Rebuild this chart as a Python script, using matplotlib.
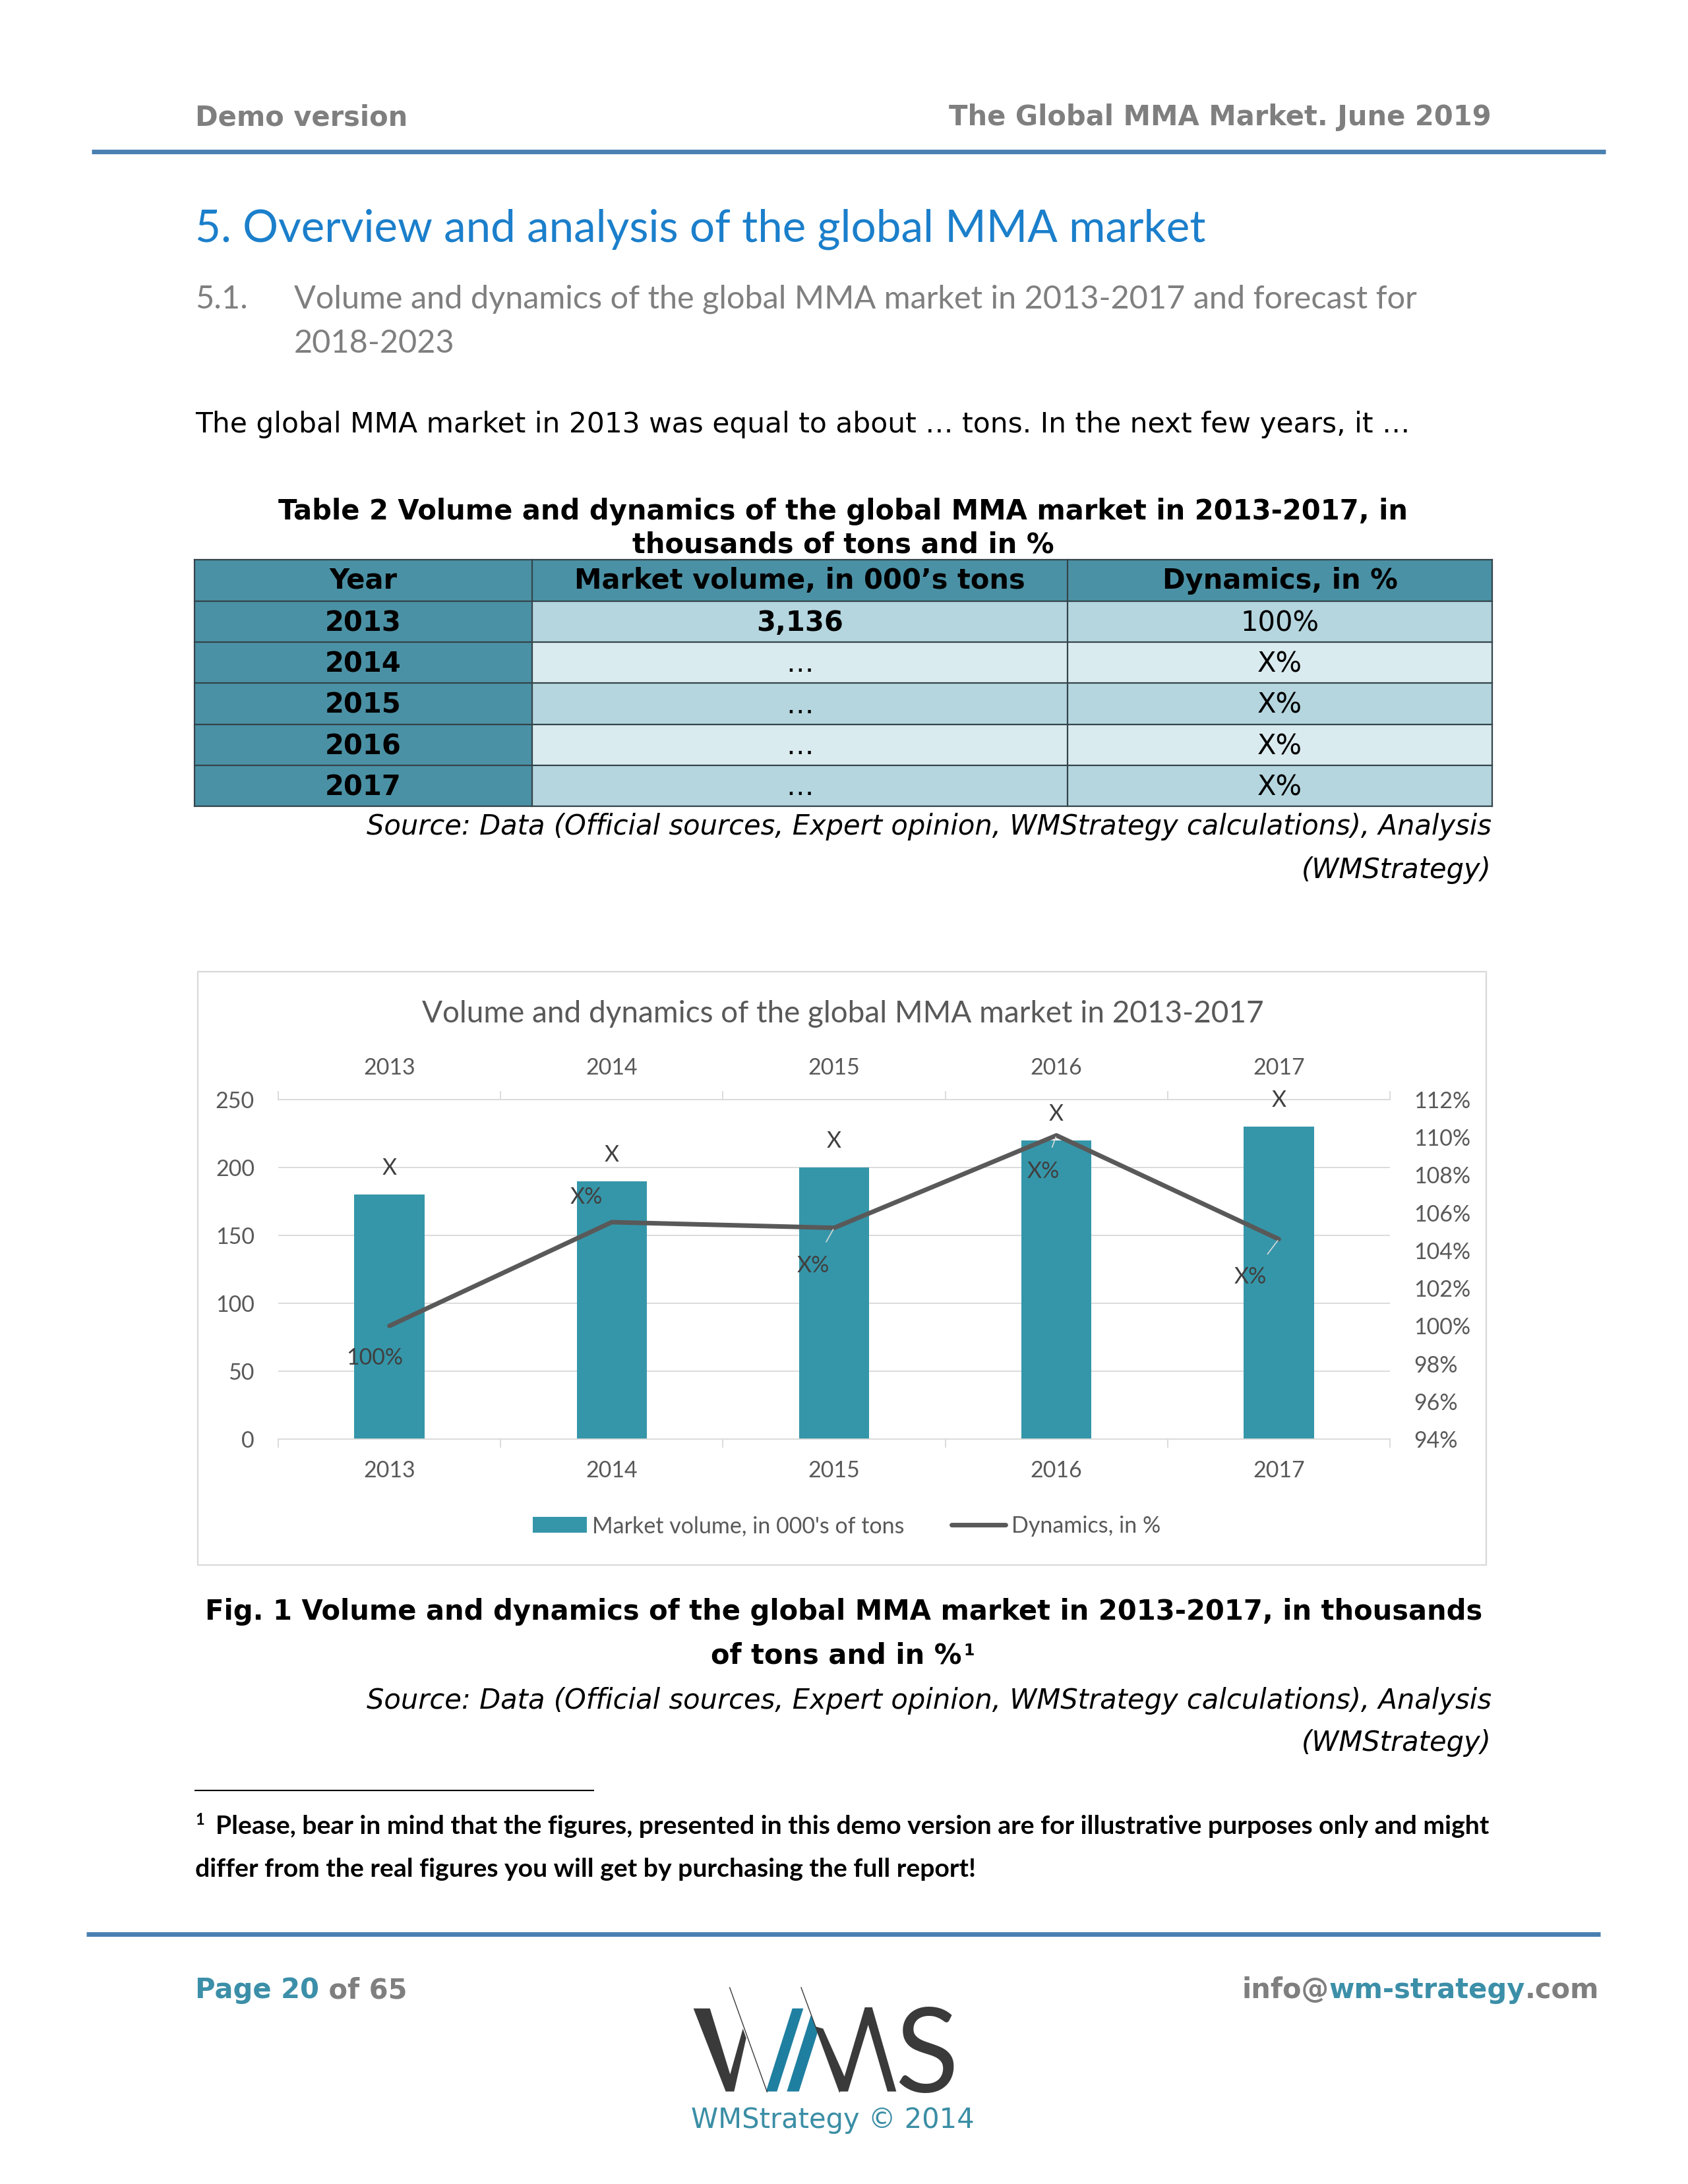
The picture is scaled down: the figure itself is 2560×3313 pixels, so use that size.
import numpy as np
import matplotlib
matplotlib.use("Agg")
import matplotlib.pyplot as plt
from matplotlib.patches import Rectangle, Polygon

plt.rcParams['font.family'] = ['Lato', 'DejaVu Sans']

# ---- data ----
years = ['2013', '2014', '2015', '2016', '2017']
volume = [180, 190, 200, 220, 230]              # 000's tons (bars)
dynamics = [100.0, 105.5, 105.2, 110.1, 104.6]  # % (line)
bar_labels = ['X', 'X', 'X', 'X', 'X']
dyn_labels = ['100%', 'X%', 'X%', 'X%', 'X%']

table_header = ['Year', 'Market volume, in 000\u2019s tons', 'Dynamics, in %']
table_volume = ['3,136', '\u2026', '\u2026', '\u2026', '\u2026']
table_dynamics = ['100%', 'X%', 'X%', 'X%', 'X%']

W, H = 2560, 3313
TEAL = '#3596a9'
TEAL_DARK = '#4b91a5'
GRAY = '#7f7f7f'
CHART_GRAY = '#595959'
VERDANA = 'DejaVu Sans'
FS = 30      # body text size (Verdana-like)
CFS = 24.5   # chart label size

fig = plt.figure(figsize=(W / 100, H / 100), dpi=100)
fig.patch.set_facecolor('white')

# page-level axes in pixel coordinates
bg = fig.add_axes([0, 0, 1, 1])
bg.set_xlim(0, W)
bg.set_ylim(H, 0)
bg.axis('off')

# header
bg.text(296, 178, 'Demo version', family=VERDANA, weight='bold', fontsize=FS,
        color=GRAY, ha='left', va='center')
bg.text(2262, 178, 'The Global MMA Market. June 2019', family=VERDANA, weight='bold',
        fontsize=FS, color=GRAY, ha='right', va='center')
bg.plot([139, 2435], [230, 230], color='#4a80b1', lw=5, solid_capstyle='butt')

# section titles
bg.text(296, 348, '5. Overview and analysis of the global MMA market', fontsize=48.5,
        color='#1b7fcb', ha='left', va='center')
bg.text(296, 454, '5.1.', fontsize=35, color=GRAY, ha='left', va='center')
bg.text(446, 454, 'Volume and dynamics of the global MMA market in 2013-2017 and forecast for',
        fontsize=35, color=GRAY, ha='left', va='center')
bg.text(446, 521, '2018-2023', fontsize=35, color=GRAY, ha='left', va='center')

bg.text(296, 644, 'The global MMA market in 2013 was equal to about \u2026 tons. In the next few years, it \u2026',
        family=VERDANA, fontsize=30.5, color='black', ha='left', va='center')

# table caption
bg.text(1279, 776, 'Table 2 Volume and dynamics of the global MMA market in 2013-2017, in',
        family=VERDANA, weight='bold', fontsize=FS, ha='center', va='center')
bg.text(1279, 826, 'thousands of tons and in %', family=VERDANA, weight='bold', fontsize=FS,
        ha='center', va='center')

# table
col_x = [295, 807, 1619, 2263]
row_y = [849, 912, 974, 1036, 1099, 1161, 1223]
row_fill = ['#b5d6df', '#daebef']
bg.add_patch(Rectangle((col_x[0], row_y[0]), col_x[-1] - col_x[0], row_y[1] - row_y[0],
                       facecolor=TEAL_DARK, edgecolor='none'))
for j, txt in enumerate(table_header):
    bg.text((col_x[j] + col_x[j + 1]) / 2, (row_y[0] + row_y[1]) / 2, txt, family=VERDANA,
            weight='bold', fontsize=FS, ha='center', va='center')
for i, yr in enumerate(years):
    y0, y1 = row_y[i + 1], row_y[i + 2]
    bg.add_patch(Rectangle((col_x[0], y0), col_x[1] - col_x[0], y1 - y0,
                           facecolor=TEAL_DARK, edgecolor='none'))
    bg.add_patch(Rectangle((col_x[1], y0), col_x[3] - col_x[1], y1 - y0,
                           facecolor=row_fill[i % 2], edgecolor='none'))
    yc = (y0 + y1) / 2 + 2
    bg.text((col_x[0] + col_x[1]) / 2, yc, yr, family=VERDANA, weight='bold', fontsize=FS,
            ha='center', va='center')
    bg.text((col_x[1] + col_x[2]) / 2, yc, table_volume[i], family=VERDANA,
            weight='bold' if i == 0 else 'normal', fontsize=FS, ha='center', va='center')
    bg.text((col_x[2] + col_x[3]) / 2, yc, table_dynamics[i], family=VERDANA, fontsize=FS,
            ha='center', va='center')
for y in row_y:
    bg.plot([col_x[0], col_x[-1]], [y, y], color='#33444a', lw=1.6)
for x in col_x:
    bg.plot([x, x], [row_y[0], row_y[-1]], color='#33444a', lw=1.6)

src = 'Source: Data (Official sources, Expert opinion, WMStrategy calculations), Analysis'
bg.text(2262, 1254, src, family=VERDANA, style='italic', fontsize=FS, ha='right', va='center')
bg.text(2262, 1320, '(WMStrategy)', family=VERDANA, style='italic', fontsize=FS, ha='right', va='center')

# chart frame
bg.add_patch(Rectangle((300, 1474), 1954, 900, facecolor='white', edgecolor='#d9d9d9', lw=1.6))
bg.text(1278, 1538, 'Volume and dynamics of the global MMA market in 2013-2017', fontsize=33,
        color=CHART_GRAY, ha='center', va='center')

# chart
left, right, top, bottom = 422, 2108, 1668, 2183
ax = fig.add_axes([left / W, 1 - bottom / H, (right - left) / W, (bottom - top) / H])
ax.set_zorder(2)
ax.patch.set_alpha(0)
x = np.arange(len(years))
bars = ax.bar(x, volume, width=0.315, color=TEAL, zorder=2)
ax.set_xlim(-0.5, len(years) - 0.5)
ax.set_ylim(0, 250)
ax.set_yticks(range(0, 251, 50))
ax.yaxis.grid(True, color='#d9d9d9', lw=1.3)
ax.set_axisbelow(True)
for s in ['left', 'right']:
    ax.spines[s].set_visible(False)
for s in ['top', 'bottom']:
    ax.spines[s].set_color('#d9d9d9')
    ax.spines[s].set_linewidth(1.3)
ax.set_xticks(np.arange(-0.5, len(years), 1))
ax.set_xticklabels([])
ax.set_xticks(x, minor=True)
ax.set_xticklabels(years, minor=True)
ax.tick_params(axis='x', which='major', direction='out', length=9.5, width=1.3,
               color='#d9d9d9', top=True, bottom=True, labelbottom=False, labeltop=False)
ax.tick_params(axis='x', which='minor', length=0, top=True, bottom=True, labeltop=True,
               labelbottom=True, pad=23, labelsize=CFS, labelcolor=CHART_GRAY)
ax.tick_params(axis='y', length=0, pad=26, labelsize=CFS, labelcolor=CHART_GRAY)

for i, v in enumerate(volume):
    ax.annotate(bar_labels[i], (x[i], v), xytext=(0, 40), textcoords='offset pixels',
                ha='center', va='center', fontsize=CFS, color='#404040')

ax2 = ax.twinx()
ax2.set_zorder(3)
ax2.patch.set_alpha(0)
line, = ax2.plot(x, dynamics, color=CHART_GRAY, lw=5, solid_joinstyle='round',
                 solid_capstyle='round')
ax2.set_ylim(94, 112)
ax2.set_yticks(range(94, 113, 2))
ax2.set_yticklabels([f'{t}%' for t in range(94, 113, 2)])
ax2.tick_params(axis='y', length=0, pad=26, labelsize=CFS, labelcolor=CHART_GRAY)
for s in ax2.spines.values():
    s.set_visible(False)

dyn_offsets = [(-22, -49), (-38, 38), (-32, -57), (-20, -55), (-43, -57)]
leader = [False, False, True, True, True]
for i, v in enumerate(dynamics):
    kw = {}
    if leader[i]:
        kw['arrowprops'] = dict(arrowstyle='-', color='#d9d9d9', lw=1.2, shrinkA=14, shrinkB=2)
    ax2.annotate(dyn_labels[i], (x[i], v), xytext=dyn_offsets[i], textcoords='offset pixels',
                 ha='center', va='center', fontsize=CFS, color='#404040', **kw)

ax.legend([bars, line], ['Market volume, in 000\'s of tons', 'Dynamics, in %'],
          loc='center', bbox_to_anchor=(1284 / W, 1 - 2315 / H), bbox_transform=fig.transFigure,
          ncol=2, frameon=False, fontsize=CFS, handlelength=2.4, handletextpad=0.25,
          columnspacing=2.1, labelcolor=CHART_GRAY)

# figure caption
bg.text(1280, 2445, 'Fig. 1 Volume and dynamics of the global MMA market in 2013-2017, in thousands',
        family=VERDANA, weight='bold', fontsize=FS, ha='center', va='center')
cap2 = bg.text(1268, 2511, 'of tons and in %', family=VERDANA, weight='bold', fontsize=FS,
               ha='center', va='center')
bg.annotate('1', xy=(1, 1), xycoords=cap2, xytext=(3, -2), textcoords='offset pixels',
            family=VERDANA, weight='bold', fontsize=17, ha='left', va='top')
bg.text(2262, 2580, src, family=VERDANA, style='italic', fontsize=FS, ha='right', va='center')
bg.text(2262, 2644, '(WMStrategy)', family=VERDANA, style='italic', fontsize=FS, ha='right', va='center')

# footnote
bg.plot([296, 900], [2716, 2716], color='black', lw=1.5)
bg.text(296, 2760, '1', fontsize=17, weight='bold', ha='left', va='center')
bg.text(327, 2770, 'Please, bear in mind that the figures, presented in this demo version are for '
        'illustrative purposes only and might', fontsize=28.2, weight='bold', ha='left', va='center')
bg.text(296, 2835, 'differ from the real figures you will get by purchasing the full report!',
        fontsize=28.2, weight='bold', ha='left', va='center')

# footer
bg.plot([131, 2427], [2934, 2934], color='#4a80b1', lw=5, solid_capstyle='butt')
p1 = bg.text(296, 3019, 'Page 20', family=VERDANA, weight='bold', fontsize=FS,
             color='#3c8fa8', ha='left', va='center')
bg.annotate(' of 65', xy=(1, 0), xycoords=p1, family=VERDANA, weight='bold', fontsize=FS,
            color=GRAY, ha='left', va='bottom')
e3 = bg.text(2425, 3019, '.com', family=VERDANA, weight='bold', fontsize=FS, color=GRAY,
             ha='right', va='center')
e2 = bg.annotate('wm-strategy', xy=(0, 0), xycoords=e3, family=VERDANA, weight='bold',
                 fontsize=FS, color='#3c8fa8', ha='right', va='bottom')
bg.annotate('info@', xy=(0, 0), xycoords=e2, family=VERDANA, weight='bold', fontsize=FS,
            color=GRAY, ha='right', va='bottom')

# logo (drawn in a 3x local grid)
def lg(pts):
    return [(1030 + px / 3, 2990 + py / 3) for px, py in pts]

DARK = '#3a3a3a'
LOGO_TEAL = '#1f7fa0'
bg.add_patch(Polygon(lg([(65, 170), (140, 170), (232, 470), (290, 262), (305, 305),
                         (250, 548), (212, 548)]), closed=True, facecolor=DARK, edgecolor='none'))
bg.add_patch(Polygon(lg([(395, 548), (445, 548), (565, 170), (515, 170)]), closed=True,
                     facecolor=LOGO_TEAL, edgecolor='none'))
bg.add_patch(Polygon(lg([(490, 548), (545, 548), (630, 279), (600, 199)]), closed=True,
                     facecolor=LOGO_TEAL, edgecolor='none'))
bg.add_patch(Polygon(lg([(619, 252), (655, 262), (752, 480), (845, 165), (878, 165), (988, 548),
                         (948, 548), (860, 245), (768, 548), (730, 548)]), closed=True,
                     facecolor=DARK, edgecolor='none'))
for (xa, ya), (xb, yb) in [((230, 75), (400, 550)), ((555, 75), (730, 550))]:
    (X0, Y0), (X1, Y1) = lg([(xa, ya), (xb, yb)])
    bg.plot([X0, X1], [Y0, Y1], color=DARK, lw=1.0)
bg.text(1405, 3174, 'S', fontsize=128, color=DARK, ha='center', va='baseline')
bg.text(1263, 3216, 'WMStrategy \u00a9 2014', family=VERDANA, fontsize=FS, color='#3b8ea5',
        ha='center', va='center')

fig.savefig('out.png', dpi=100, facecolor='white')
